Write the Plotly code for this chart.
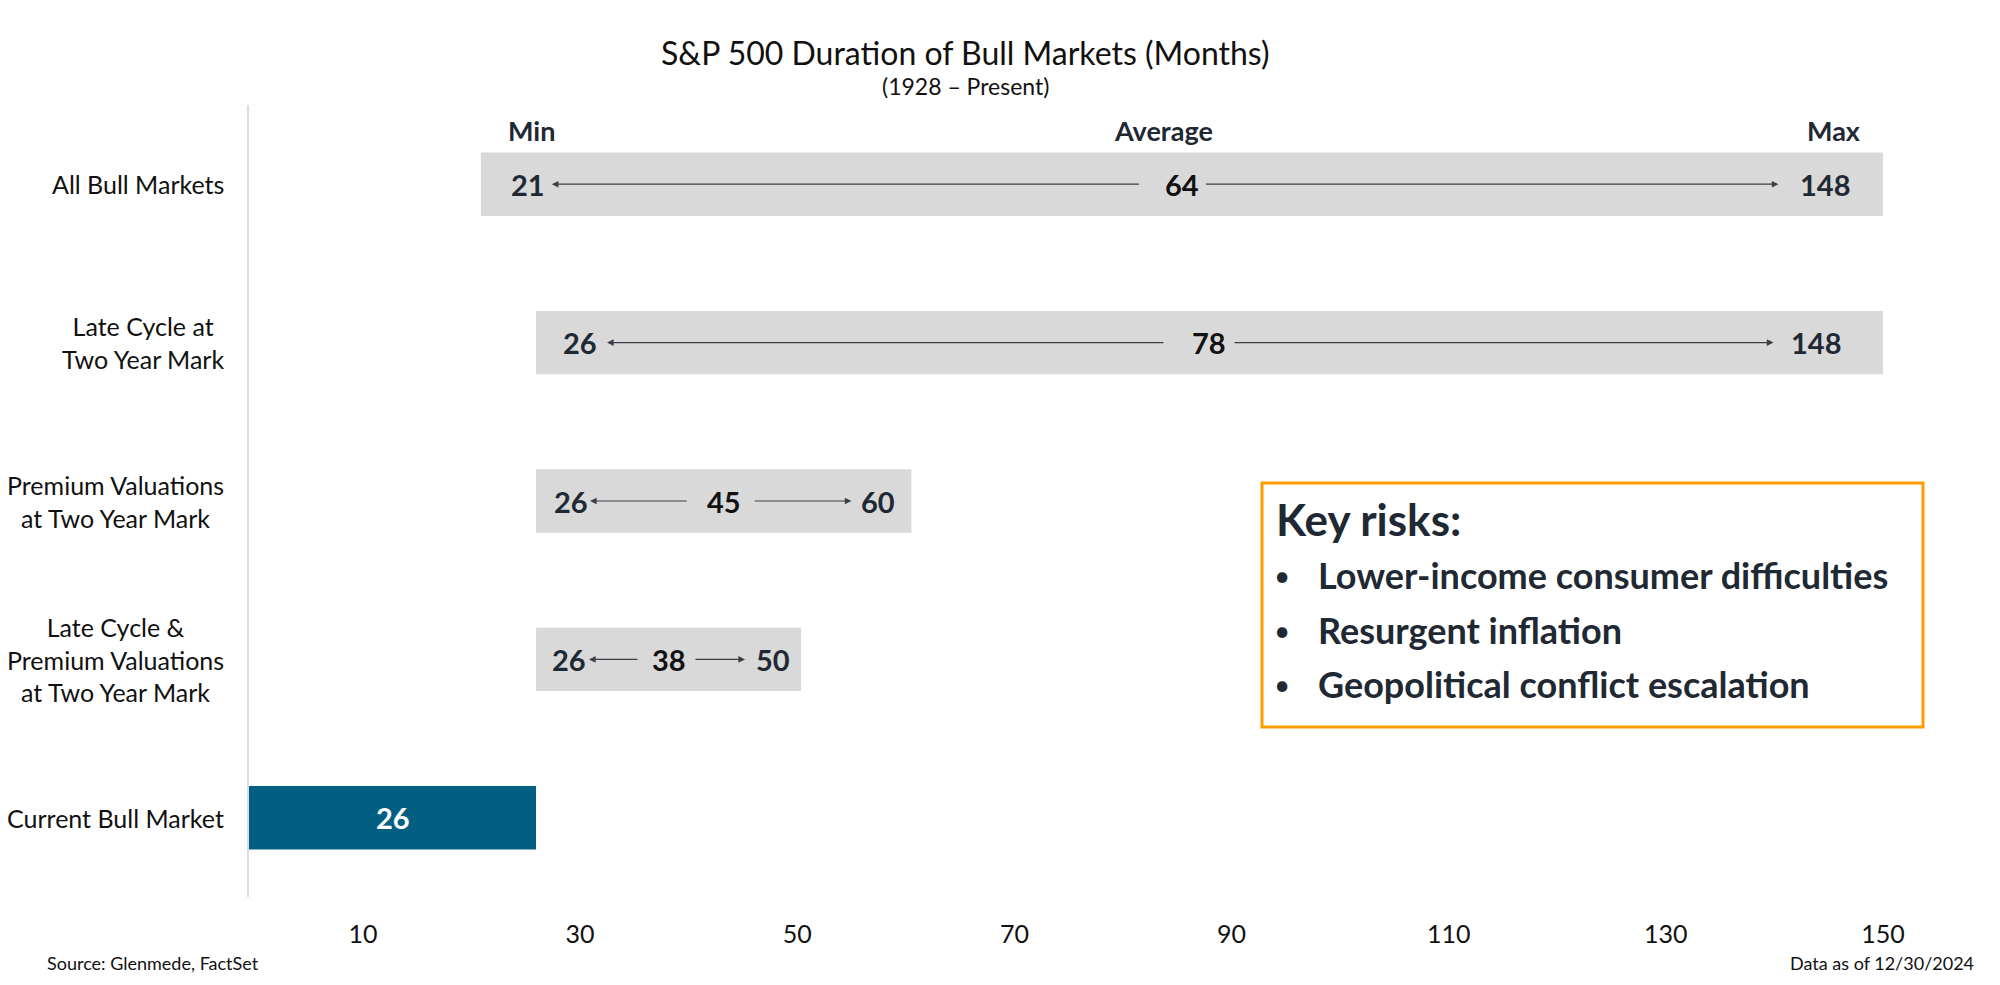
import plotly.graph_objects as go

# ---------------- data ----------------
categories = ["All Bull Markets",
              "Late Cycle at<br>Two Year Mark",
              "Premium Valuations<br>at Two Year Mark",
              "Late Cycle &<br>Premium Valuations<br>at Two Year Mark",
              "Current Bull Market"]
min_vals = [21, 26, 26, 26]
avg_vals = [64, 78, 45, 38]
max_vals = [148, 148, 60, 50]
current_value = 26
tick_vals = [10, 30, 50, 70, 90, 110, 130, 150]
tick_text = [str(v) for v in tick_vals]
risks = ["Lower-income consumer difficulties", "Resurgent inflation", "Geopolitical conflict escalation"]

# ---------------- styles / layout geometry ----------------
W, H = 2000, 985
ML, MR, MT, MB = 249, 95, 105, 88
XR = [0, 150]                 # bar axis
XR_TICKS = [-0.497, 152.03]   # label axis (labels sit slightly offset in the original)
PLOT_W = W - ML - MR
PLOT_H = H - MT - MB
PX = PLOT_W / (XR[1] - XR[0])          # pixels per unit
FONT = "Lato"
DARK = "#1F2933"
GREY_BAR = "#D9D9D9"
BLUE = "#035F82"
ORANGE = "#FF9B00"
VAL_SIZE = 29
DIGIT_W = 16.5
min_pad_px = [28, 25, 16, 14]
max_pad_px = [31, 40, 14, 9]
tail_gap_left = [25, 28, 19, 13]
tail_gap_right = [6, 7, 13, 9]
head_gap_left = [10, 13, 5, 6]
head_gap_right = [24, 20, 13, 14]


def pxp(px):
    return (px - ML) / PLOT_W


def pyp(py):
    return (H - MB - py) / PLOT_H


def d(px):
    return px / PX


fig = go.Figure()

# range bars (min -> max)
fig.add_trace(go.Bar(
    y=categories[:4], x=[mx - mn for mn, mx in zip(min_vals, max_vals)],
    base=min_vals, orientation="h", width=0.4,
    marker=dict(color=GREY_BAR, line=dict(width=0)), hoverinfo="skip", showlegend=False))
# current bar
fig.add_trace(go.Bar(
    y=[categories[4]], x=[current_value], base=[0], orientation="h", width=0.4,
    marker=dict(color=BLUE, line=dict(width=0)), hoverinfo="skip", showlegend=False))
# invisible trace carrying the tick-label axis
fig.add_trace(go.Scatter(x=tick_vals, y=[categories[4]] * len(tick_vals), xaxis="x2", mode="markers",
                         marker=dict(opacity=0), hoverinfo="skip", showlegend=False))

ann = []
for i in range(4):
    cat = categories[i]
    s, e = min_vals[i], max_vals[i]
    mid = (s + e) / 2
    mn, av, mx = str(min_vals[i]), str(avg_vals[i]), str(max_vals[i])
    # value labels
    ann.append(dict(x=s, y=cat, xref="x", yref="y", text=mn, showarrow=False,
                    xanchor="left", yanchor="middle", xshift=min_pad_px[i],
                    font=dict(family=FONT, size=VAL_SIZE, color=DARK, weight=700)))
    ann.append(dict(x=mid, y=cat, xref="x", yref="y", text=av, showarrow=False,
                    xanchor="center", yanchor="middle",
                    font=dict(family=FONT, size=VAL_SIZE, color="#111111", weight=700)))
    ann.append(dict(x=e, y=cat, xref="x", yref="y", text=mx, showarrow=False,
                    xanchor="right", yanchor="middle", xshift=-max_pad_px[i],
                    font=dict(family=FONT, size=VAL_SIZE, color=DARK, weight=700)))
    # arrows
    avg_half = len(av) * DIGIT_W / 2
    left_head = s + d(min_pad_px[i] + len(mn) * DIGIT_W + head_gap_left[i])
    left_tail = mid - d(avg_half + tail_gap_left[i])
    right_head = e - d(max_pad_px[i] + len(mx) * DIGIT_W + head_gap_right[i])
    right_tail = mid + d(avg_half + tail_gap_right[i])
    for hx, tx in [(left_head, left_tail), (right_head, right_tail)]:
        ann.append(dict(x=hx, y=cat, ax=tx, ay=cat, xref="x", yref="y", axref="x", ayref="y",
                        text="", showarrow=True, arrowhead=2, arrowsize=1.1, arrowwidth=1.2,
                        arrowcolor="#3A3F45"))

# current bar label
ann.append(dict(x=current_value / 2, y=categories[4], xref="x", yref="y", text=str(current_value),
                showarrow=False, xanchor="center", yanchor="middle",
                font=dict(family=FONT, size=VAL_SIZE, color="white", weight=700)))

# Min / Average / Max headers above first bar
hdr_font = dict(family=FONT, size=27, color=DARK, weight=700)
ann.append(dict(x=min_vals[0], y=pyp(130), xref="x", yref="paper", text="Min", showarrow=False,
                xanchor="left", yanchor="middle", xshift=min_pad_px[0] - 3, font=hdr_font))
ann.append(dict(x=(min_vals[0] + max_vals[0]) / 2, y=pyp(130), xref="x", yref="paper",
                text="Average", showarrow=False, xanchor="center", yanchor="middle", xshift=-18,
                font=hdr_font))
ann.append(dict(x=max_vals[0], y=pyp(130), xref="x", yref="paper", text="Max", showarrow=False,
                xanchor="right", yanchor="middle", xshift=-max_pad_px[0] + 11, font=hdr_font))

# category labels (right edge fixed, lines centred within block)
for cat in categories:
    ann.append(dict(x=pxp(226), y=cat, xref="paper", yref="y", text=cat, showarrow=False,
                    xanchor="right", yanchor="middle", align="center",
                    font=dict(family=FONT, size=25, color="#111111")))

# title
ann.append(dict(x=pxp(965), y=pyp(52), xref="paper", yref="paper", showarrow=False,
                xanchor="center", yanchor="middle",
                text="S&P 500 Duration of Bull Markets (Months)",
                font=dict(family=FONT, size=32, color="#111111")))
ann.append(dict(x=pxp(965), y=pyp(86), xref="paper", yref="paper", showarrow=False,
                xanchor="center", yanchor="middle",
                text="(1928 – Present)", font=dict(family=FONT, size=23, color="#111111")))

# footer
ann.append(dict(x=pxp(45), y=pyp(963), xref="paper", yref="paper", showarrow=False,
                xanchor="left", yanchor="middle",
                text="Source: Glenmede, FactSet", font=dict(family=FONT, size=18, color="#111111")))
ann.append(dict(x=pxp(1976), y=pyp(963), xref="paper", yref="paper", showarrow=False,
                xanchor="right", yanchor="middle",
                text="Data as of 12/30/2024", font=dict(family=FONT, size=18, color="#111111")))

# key risks box
ann.append(dict(x=pxp(1274), y=pyp(519), xref="paper", yref="paper", showarrow=False,
                xanchor="left", yanchor="middle",
                text="Key risks:", font=dict(family=FONT, size=44, color=DARK, weight=700)))
for j, r in enumerate(risks):
    yy = pyp(575 + j * 54.5)
    ann.append(dict(x=pxp(1272), y=yy, xref="paper", yref="paper", showarrow=False,
                    xanchor="left", yanchor="middle",
                    text="•", font=dict(family=FONT, size=28, color=DARK)))
    ann.append(dict(x=pxp(1316), y=yy, xref="paper", yref="paper", showarrow=False,
                    xanchor="left", yanchor="middle",
                    text=r, font=dict(family=FONT, size=36, color=DARK, weight=700)))

shapes = [dict(type="rect", xref="paper", yref="paper", x0=pxp(1262), x1=pxp(1923),
               y0=pyp(727), y1=pyp(483), line=dict(color=ORANGE, width=3), fillcolor="rgba(0,0,0,0)")]

fig.update_layout(
    width=W, height=H, margin=dict(l=ML, r=MR, t=MT, b=MB),
    paper_bgcolor="white", plot_bgcolor="white",
    barmode="overlay", showlegend=False,
    annotations=ann, shapes=shapes,
    xaxis=dict(range=XR, showticklabels=False, showgrid=False, zeroline=False,
               showline=False, ticks="", fixedrange=True),
    xaxis2=dict(range=XR_TICKS, overlaying="x", side="bottom", anchor="y",
                tickvals=tick_vals, ticktext=tick_text, showgrid=False, zeroline=False,
                showline=False, ticks="outside", ticklen=15, tickcolor="rgba(0,0,0,0)",
                tickfont=dict(family=FONT, size=25, color="#111111"), fixedrange=True),
    yaxis=dict(categoryorder="array", categoryarray=categories[::-1], showticklabels=False,
               showgrid=False, zeroline=False, showline=True, linecolor="#DADDE0", linewidth=1.5,
               ticks="", range=[-0.5, 4.5], fixedrange=True),
)

fig.write_html("out.html")
